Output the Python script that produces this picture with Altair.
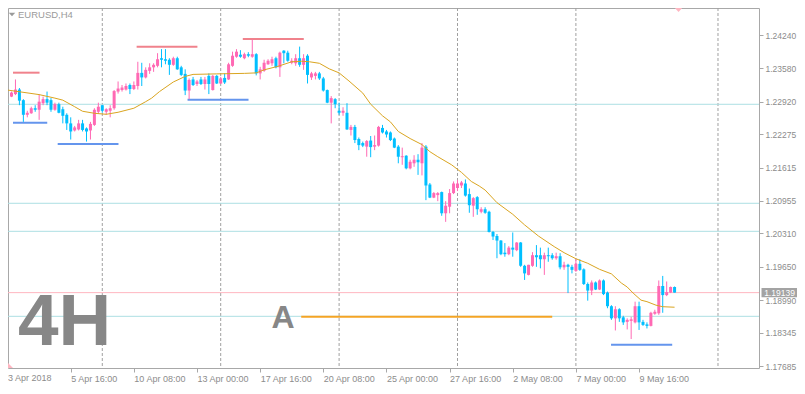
import altair as alt
import pandas as pd

# ---------------- data (EURUSD H4) ----------------
opens = [1.2295, 1.2302, 1.2307, 1.2316, 1.2295, 1.2266, 1.2269, 1.2279, 1.2276, 1.2289,
         1.2297, 1.2295, 1.2276, 1.2287, 1.2277, 1.2266, 1.2249, 1.2235, 1.2237, 1.2249,
         1.2239, 1.2235, 1.2246, 1.2272, 1.2285, 1.2272, 1.2274, 1.2279, 1.2312, 1.2315,
         1.2316, 1.2325, 1.2317, 1.2323, 1.2349, 1.2340, 1.2353, 1.2360, 1.2363, 1.2378,
         1.2376, 1.2375, 1.2365, 1.2378, 1.2360, 1.2347, 1.2314, 1.2336, 1.2327, 1.2336,
         1.2327, 1.2343, 1.2315, 1.2343, 1.2328, 1.2339, 1.2336, 1.2363, 1.2381, 1.2385,
         1.2378, 1.2386, 1.2381, 1.2386, 1.2348, 1.2353, 1.2366, 1.2368, 1.2378, 1.2360,
         1.2393, 1.2389, 1.2369, 1.2368, 1.2378, 1.2365, 1.2383, 1.2340, 1.2343, 1.2348,
         1.2338, 1.2315, 1.2290, 1.2297, 1.2274, 1.2270, 1.2270, 1.2236, 1.2242, 1.2218,
         1.2210, 1.2203, 1.2215, 1.2203, 1.2205, 1.2240, 1.2233, 1.2231, 1.2219, 1.2203,
         1.2182, 1.2185, 1.2160, 1.2170, 1.2177, 1.2170, 1.2203, 1.2128, 1.2102, 1.2107,
         1.2113, 1.2071, 1.2084, 1.2111, 1.2121, 1.2126, 1.2130, 1.2109, 1.2086, 1.2103,
         1.2074, 1.2079, 1.2074, 1.2034, 1.2026, 1.2017, 1.1993, 1.1990, 1.2003, 1.1998,
         1.2013, 1.1967, 1.1949, 1.1967, 1.1988, 1.1988, 1.1980, 1.1988, 1.1988, 1.1982,
         1.1986, 1.1964, 1.1969, 1.1965, 1.1957, 1.1971, 1.1960, 1.1931, 1.1918, 1.1934,
         1.1920, 1.1938, 1.1914, 1.1887, 1.1863, 1.1881, 1.1865, 1.1856, 1.1858, 1.1855,
         1.1887, 1.1856, 1.1851, 1.1848, 1.1872, 1.1873, 1.1927, 1.1909, 1.1914, 1.1925]
highs = [1.2307, 1.2312, 1.2336, 1.2319, 1.2297, 1.2274, 1.2282, 1.2285, 1.2307, 1.2302,
         1.2312, 1.2299, 1.2290, 1.2290, 1.2282, 1.2269, 1.2261, 1.2244, 1.2256, 1.2256,
         1.2241, 1.2252, 1.2279, 1.2290, 1.2285, 1.2279, 1.2285, 1.2315, 1.2332, 1.2325,
         1.2328, 1.2328, 1.2332, 1.2371, 1.2369, 1.2360, 1.2368, 1.2368, 1.2388, 1.2396,
         1.2396, 1.2378, 1.2381, 1.2381, 1.2363, 1.2356, 1.2338, 1.2341, 1.2335, 1.2341,
         1.2341, 1.2348, 1.2345, 1.2345, 1.2341, 1.2348, 1.2369, 1.2391, 1.2396, 1.2394,
         1.2389, 1.2390, 1.2415, 1.2388, 1.2361, 1.2375, 1.2376, 1.2381, 1.2381, 1.2391,
         1.2394, 1.2393, 1.2378, 1.2386, 1.2401, 1.2386, 1.2386, 1.2351, 1.2351, 1.2351,
         1.2341, 1.2316, 1.2303, 1.2299, 1.2290, 1.2281, 1.2289, 1.2246, 1.2246, 1.2221,
         1.2213, 1.2216, 1.2224, 1.2225, 1.2244, 1.2246, 1.2236, 1.2233, 1.2221, 1.2206,
         1.2201, 1.2186, 1.2177, 1.2186, 1.2188, 1.2210, 1.2206, 1.2131, 1.2113, 1.2113,
         1.2114, 1.2095, 1.2119, 1.2134, 1.2137, 1.2135, 1.2138, 1.2120, 1.2103, 1.2105,
         1.2083, 1.2083, 1.2076, 1.2036, 1.2030, 1.2018, 1.2012, 1.2006, 1.2033, 1.2014,
         1.2014, 1.1969, 1.1969, 1.1994, 1.2008, 1.2003, 1.1993, 1.2003, 1.1992, 1.1993,
         1.1992, 1.1975, 1.1971, 1.1969, 1.1980, 1.1980, 1.1962, 1.1934, 1.1938, 1.1936,
         1.1940, 1.1940, 1.1916, 1.1889, 1.1887, 1.1883, 1.1868, 1.1863, 1.1866, 1.1896,
         1.1896, 1.1860, 1.1855, 1.1876, 1.1880, 1.1938, 1.1947, 1.1936, 1.1926, 1.1926]
lows = [1.2291, 1.2301, 1.2305, 1.2285, 1.2252, 1.2261, 1.2268, 1.2272, 1.2256, 1.2285,
        1.2285, 1.2272, 1.2274, 1.2269, 1.2249, 1.2236, 1.2217, 1.2233, 1.2235, 1.2233,
        1.2213, 1.2217, 1.2244, 1.2268, 1.2270, 1.2266, 1.2261, 1.2276, 1.2308, 1.2312,
        1.2314, 1.2307, 1.2315, 1.2316, 1.2323, 1.2338, 1.2347, 1.2351, 1.2360, 1.2360,
        1.2366, 1.2345, 1.2363, 1.2355, 1.2343, 1.2305, 1.2297, 1.2323, 1.2323, 1.2325,
        1.2316, 1.2307, 1.2314, 1.2327, 1.2327, 1.2327, 1.2335, 1.2361, 1.2379, 1.2379,
        1.2376, 1.2380, 1.2379, 1.2344, 1.2336, 1.2351, 1.2365, 1.2363, 1.2358, 1.2341,
        1.2368, 1.2371, 1.2366, 1.2363, 1.2361, 1.2355, 1.2328, 1.2335, 1.2336, 1.2335,
        1.2312, 1.2289, 1.2249, 1.2279, 1.2266, 1.2264, 1.2236, 1.2225, 1.2210, 1.2196,
        1.2202, 1.2183, 1.2182, 1.2196, 1.2203, 1.2229, 1.2221, 1.2214, 1.2200, 1.2170,
        1.2167, 1.2158, 1.2158, 1.2163, 1.2147, 1.2146, 1.2097, 1.2101, 1.2101, 1.2095,
        1.2066, 1.2054, 1.2071, 1.2109, 1.2115, 1.2121, 1.2104, 1.2072, 1.2064, 1.2068,
        1.2071, 1.2070, 1.2033, 1.2018, 1.1982, 1.1988, 1.1985, 1.1988, 1.1985, 1.1996,
        1.1965, 1.1939, 1.1948, 1.1965, 1.1965, 1.1962, 1.1949, 1.1975, 1.1979, 1.1979,
        1.1960, 1.1959, 1.1913, 1.1952, 1.1955, 1.1957, 1.1929, 1.1898, 1.1909, 1.1919,
        1.1919, 1.1909, 1.1883, 1.1860, 1.1839, 1.1856, 1.1850, 1.1841, 1.1822, 1.1853,
        1.1840, 1.1848, 1.1843, 1.1847, 1.1870, 1.1870, 1.1874, 1.1907, 1.1913, 1.1914]
closes = [1.2305, 1.2310, 1.2316, 1.2294, 1.2266, 1.2270, 1.2279, 1.2276, 1.2292, 1.2297,
          1.2290, 1.2276, 1.2287, 1.2270, 1.2264, 1.2249, 1.2233, 1.2241, 1.2249, 1.2236,
          1.2233, 1.2248, 1.2276, 1.2282, 1.2274, 1.2277, 1.2279, 1.2313, 1.2318, 1.2320,
          1.2323, 1.2317, 1.2325, 1.2349, 1.2340, 1.2355, 1.2360, 1.2365, 1.2376, 1.2375,
          1.2373, 1.2365, 1.2378, 1.2356, 1.2345, 1.2314, 1.2335, 1.2325, 1.2332, 1.2327,
          1.2336, 1.2327, 1.2343, 1.2328, 1.2338, 1.2330, 1.2366, 1.2383, 1.2391, 1.2381,
          1.2386, 1.2383, 1.2386, 1.2348, 1.2356, 1.2369, 1.2373, 1.2376, 1.2360, 1.2389,
          1.2388, 1.2373, 1.2373, 1.2378, 1.2365, 1.2378, 1.2345, 1.2348, 1.2348, 1.2338,
          1.2314, 1.2290, 1.2299, 1.2287, 1.2270, 1.2274, 1.2237, 1.2242, 1.2216, 1.2206,
          1.2205, 1.2214, 1.2202, 1.2206, 1.2242, 1.2231, 1.2227, 1.2216, 1.2201, 1.2183,
          1.2184, 1.2160, 1.2173, 1.2177, 1.2172, 1.2201, 1.2126, 1.2102, 1.2111, 1.2111,
          1.2071, 1.2086, 1.2111, 1.2130, 1.2130, 1.2132, 1.2106, 1.2087, 1.2101, 1.2079,
          1.2079, 1.2072, 1.2034, 1.2025, 1.2017, 1.1990, 1.1990, 1.2003, 1.1999, 1.2013,
          1.1967, 1.1952, 1.1969, 1.1988, 1.1984, 1.1980, 1.1988, 1.1986, 1.1982, 1.1986,
          1.1964, 1.1969, 1.1965, 1.1959, 1.1971, 1.1959, 1.1931, 1.1918, 1.1934, 1.1920,
          1.1938, 1.1911, 1.1887, 1.1863, 1.1881, 1.1863, 1.1855, 1.1860, 1.1861, 1.1887,
          1.1855, 1.1850, 1.1848, 1.1874, 1.1876, 1.1927, 1.1909, 1.1915, 1.1925, 1.19139]
bars = list(range(len(closes)))

# moving average (read at selected bars)
ma_bar = [0, 8, 12, 14, 17, 19, 22, 25, 28, 32, 35, 36.5, 38.5, 42, 45, 47, 53, 60, 63, 65,
          68.5, 72, 74.5, 76.5, 79, 81.5, 84, 86.5, 90, 92, 95, 97, 99, 102, 105, 107, 109,
          112.5, 115, 117.5, 119.5, 121, 124, 128, 131, 134.5, 138.5, 141, 144, 147, 150, 153,
          155.5, 157, 158.5, 160.5, 162, 164.3, 166, 169]
ma_val = [1.2315, 1.2306, 1.2299, 1.2295, 1.2282, 1.2273, 1.2269, 1.2267, 1.2271, 1.2279,
          1.2292, 1.2299, 1.2312, 1.2331, 1.2342, 1.2346, 1.2347, 1.2348, 1.2349, 1.2355,
          1.2362, 1.2371, 1.2372, 1.2371, 1.2368, 1.2357, 1.2349, 1.2333, 1.2309, 1.2287,
          1.2264, 1.2252, 1.2233, 1.2219, 1.2207, 1.2193, 1.2183, 1.2167, 1.2152, 1.2134,
          1.2125, 1.2117, 1.2092, 1.2069, 1.2048, 1.2026, 1.2005, 1.1993, 1.1981, 1.1972,
          1.1960, 1.1951, 1.1933, 1.1925, 1.1913, 1.1899, 1.1896, 1.1889, 1.1886, 1.1885]

# full-width horizontal levels
hline_price = [1.22868, 1.20908, 1.20353, 1.18670, 1.19139]
hline_color = ["#ADDFE3", "#ADDFE3", "#ADDFE3", "#ADDFE3", "#FFB6C1"]

# short level segments
seg_start = [-0.125, 32.7, 59.6, -0.125, 12.7, 45.6, 152.9, 74.4]
seg_end = [8.1, 48.1, 75.05, 10.05, 28.1, 61.05, 168.4, 138.0]
seg_price = [1.23494, 1.24008, 1.24161, 1.22504, 1.22082, 1.22959, 1.18108, 1.18662]
seg_color = ["#F0828C", "#F0828C", "#F0828C", "#6495ED", "#6495ED", "#6495ED", "#6495ED", "#F4A425"]

# vertical dashed grid (bar indices)
grid_bars = [24, 54, 84, 114, 144, 180]

# axes
x_tick_bars = [0, 16, 32, 48, 64, 80, 96, 112, 128, 144, 160]
x_tick_labels = ["3 Apr 2018", "5 Apr 16:00", "10 Apr 08:00", "13 Apr 00:00", "17 Apr 16:00",
                 "20 Apr 08:00", "25 Apr 00:00", "27 Apr 16:00", "2 May 08:00", "7 May 00:00",
                 "9 May 16:00"]
y_ticks = [1.24240, 1.23580, 1.22920, 1.22275, 1.21615, 1.20955, 1.20310, 1.19650,
           1.18990, 1.18345, 1.17685]

title_text = ["EURUSD,H4"]
big_label = ["4H"]
a_label = ["A"]
last_price = [1.19139]

# ---------------- chart ----------------
PINK = "#FF69B4"
BLUE = "#00BFFF"
GREY = "#8C8C8C"
FONT = "Liberation Sans"
W, H = 751, 360
X0, X1 = 1.375, 189.125

x_scale = alt.Scale(domain=[X0, X1], nice=False, zero=False)
y_scale = alt.Scale(domain=[1.176466, 1.247746], nice=False, zero=False)

axis_bars = [b for b in x_tick_bars if b >= X0]
axis_labels = [l for b, l in zip(x_tick_bars, x_tick_labels) if b >= X0]
first_label = [l for b, l in zip(x_tick_bars, x_tick_labels) if b < X0]

label_expr = ("[" + ",".join("'%s'" % s for s in axis_labels) + "][indexof(["
              + ",".join(str(b) for b in axis_bars) + "], datum.value)]")
x_axis = alt.Axis(values=axis_bars, labelExpr=label_expr, orient="bottom", tickSize=4,
                  labelAlign="left", labelBaseline="top", labelPadding=2, domain=False,
                  grid=False, labelFont=FONT, labelFontSize=9, labelColor=GREY,
                  tickColor="#A8A8A8", labelOverlap=False, labelFlush=False, title=None)
y_axis = alt.Axis(values=y_ticks, format=".5f", orient="right", tickSize=4, labelPadding=2,
                  labelAlign="left", labelBaseline="middle", domain=False, grid=False,
                  labelFont=FONT, labelFontSize=8.5, labelColor=GREY, tickColor="#A8A8A8",
                  labelOverlap=False, labelFlush=False, title=None)


def X(f):
    return alt.X(f + ":Q", scale=x_scale, axis=x_axis)


def Y(f):
    return alt.Y(f + ":Q", scale=y_scale, axis=y_axis)


df = pd.DataFrame({"bar": bars, "open": opens, "high": highs, "low": lows, "close": closes})
df = df[df["bar"] >= X0 - 0.5]
df_ma = pd.DataFrame({"bar": ma_bar, "ma": ma_val})
df_h = pd.DataFrame({"price": hline_price, "color": hline_color})
df_seg = pd.DataFrame({"x0": seg_start, "x1": seg_end, "price": seg_price, "color": seg_color})
df_seg["x0"] = df_seg["x0"].clip(lower=X0)
df_grid = pd.DataFrame({"bar": grid_bars})

color_cond = alt.condition("datum.close >= datum.open", alt.value(PINK), alt.value(BLUE))

hlines = alt.Chart(df_h).mark_rule(strokeWidth=1).encode(
    y=Y("price"), color=alt.Color("color:N", scale=None))
grid = alt.Chart(df_grid).mark_rule(strokeWidth=1, strokeDash=[3, 2], color="#A0A0A0").encode(
    x=X("bar"))
wicks = alt.Chart(df).mark_rule(strokeWidth=1).encode(
    x=X("bar"), y=Y("low"), y2=alt.Y2("high"), color=color_cond)
bodies = alt.Chart(df).mark_bar(size=3).encode(
    x=X("bar"), y=Y("open"), y2=alt.Y2("close"), color=color_cond)
ma = alt.Chart(df_ma).mark_line(strokeWidth=1, color="#DAA520", clip=True).encode(
    x=X("bar"), y=Y("ma"))
segs = alt.Chart(df_seg).mark_rule(strokeWidth=2).encode(
    x=X("x0"), x2=alt.X2("x1"), y=Y("price"), color=alt.Color("color:N", scale=None))

t_title = alt.Chart(pd.DataFrame({"t": title_text})).mark_text(
    font=FONT, fontSize=9.5, color="#9A9A9A", align="left", baseline="alphabetic").encode(
    text="t:N", x=alt.value(10), y=alt.value(10))
tri_title = alt.Chart(pd.DataFrame({"t": title_text})).mark_point(
    shape="M-1,-0.55L1,-0.55L0,0.55Z", size=42, filled=True, color="#9A9A9A", opacity=1).encode(
    x=alt.value(4), y=alt.value(6.5))
t_first = alt.Chart(pd.DataFrame({"t": first_label})).mark_text(
    font=FONT, fontSize=9, color=GREY, align="left", baseline="top").encode(
    text="t:N", x=alt.value(0), y=alt.value(H + 6))
t_4h = alt.Chart(pd.DataFrame({"t": big_label})).mark_text(
    font=FONT, fontSize=73, fontWeight="bold", color="#878787", align="left",
    baseline="alphabetic").encode(text="t:N", x=alt.value(10), y=alt.value(337))
t_a = alt.Chart(pd.DataFrame({"t": a_label})).mark_text(
    font=FONT, fontSize=32, fontWeight="bold", color="#878787", align="center",
    baseline="alphabetic").encode(text="t:N", x=alt.value(275), y=alt.value(320.3))

df_last = pd.DataFrame({"price": last_price, "bar": [170]})
top_tri = alt.Chart(df_last).mark_point(
    shape="M-1,-0.55L1,-0.55L0,0.55Z", size=81, filled=True, color="#FFB6C1", opacity=1).encode(
    x=X("bar"), y=alt.value(1.5))
corner_tri = alt.Chart(df_last).mark_point(
    shape="M-1,-1L1,1L-1,1Z", size=25, filled=True, color="#FFB6C1", opacity=1).encode(
    x=alt.value(2.5), y=alt.value(H - 2.5))
price_box = alt.Chart(df_last).mark_point(
    shape="M-1,-0.262L1,-0.262L1,0.262L-1,0.262Z", size=1296, filled=True,
    color="#A3A3A3", opacity=1).encode(x=alt.value(771.5), y=Y("price"))
price_txt = alt.Chart(df_last).mark_text(
    font=FONT, fontSize=8.5, color="white", align="center", baseline="middle").encode(
    text=alt.Text("price:Q", format=".5f"), x=alt.value(771.5), y=Y("price"))

chart = alt.layer(
    grid, hlines, segs, wicks, bodies, ma, t_title, tri_title, t_first, t_4h, t_a,
    top_tri, corner_tri, price_box, price_txt
).properties(
    width=W, height=H,
    autosize=alt.AutoSizeParams(type="none"),
    padding={"left": 0, "top": 0, "right": 38, "bottom": 18},
).configure_view(stroke="#A8A8A8", strokeWidth=1)

chart.save("out.html", embed_options={"renderer": "svg", "actions": False})
